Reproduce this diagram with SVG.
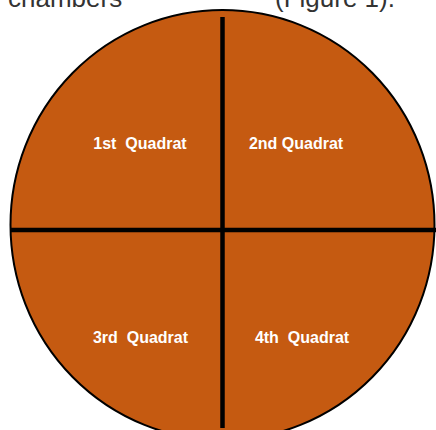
<svg xmlns="http://www.w3.org/2000/svg" width="436" height="430" viewBox="0 0 436 430">
  <style>
    .cap { font-family: "Liberation Sans", Arial, sans-serif; font-size: 26px; fill: #333333; }
    .lbl { font-family: "Liberation Sans", Arial, sans-serif; font-size: 16px; font-weight: bold; fill: #ffffff; text-anchor: middle; white-space: pre; }
    .div { stroke: #000000; stroke-width: 4.5; fill: none; }
  </style>
  <rect width="436" height="430" fill="#ffffff"/>
  <text class="cap" x="8" y="7">chambers</text>
  <text class="cap" x="275" y="7">(Figure 1).</text>
  <g id="circle">
    <ellipse cx="222.5" cy="225" rx="212" ry="215" fill="#C55A11" stroke="#000000" stroke-width="2"/>
  </g>
  <g id="connectors">
    <line class="div" x1="222.5" y1="17" x2="222.5" y2="428"/>
    <line class="div" x1="10" y1="230" x2="436" y2="230"/>
  </g>
  <g id="q1"><text class="lbl" x="140" y="149">1st  Quadrat</text></g>
  <g id="q2"><text class="lbl" x="296" y="149">2nd Quadrat</text></g>
  <g id="q3"><text class="lbl" x="140.5" y="343">3rd  Quadrat</text></g>
  <g id="q4"><text class="lbl" x="302" y="343">4th  Quadrat</text></g>
</svg>
